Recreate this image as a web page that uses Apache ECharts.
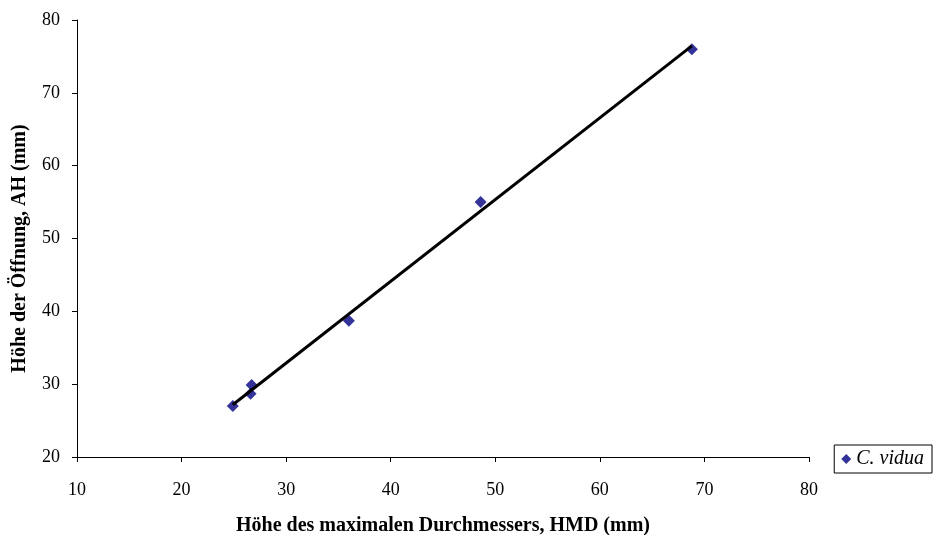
<!DOCTYPE html>
<html>
<head>
<meta charset="utf-8">
<script src="https://cdn.jsdelivr.net/npm/echarts@6/dist/echarts.min.js"></script>
<style>
  html, body { margin: 0; padding: 0; background: #fff; }
  #chart { width: 933px; height: 535px; }
</style>
</head>
<body>
<div id="chart"></div>
<script>
// Höhe des maximalen Durchmessers (HMD) und Höhe der Öffnung (AH), in mm
const hmd = [24.9, 26.6, 26.7, 36.0, 48.6, 68.8];
const ah  = [27.0, 28.7, 29.9, 38.7, 55.0, 76.0];
const seriesName = 'C. vidua';
const xTicks = [10, 20, 30, 40, 50, 60, 70, 80];
const yTicks = [20, 30, 40, 50, 60, 70, 80];

// Lineare Regression (Trendlinie) über die Messpunkte
function linearFit(xs, ys) {
  const n = xs.length;
  const mx = xs.reduce((a, b) => a + b, 0) / n;
  const my = ys.reduce((a, b) => a + b, 0) / n;
  let sxy = 0, sxx = 0;
  for (let i = 0; i < n; i++) {
    sxy += (xs[i] - mx) * (ys[i] - my);
    sxx += (xs[i] - mx) * (xs[i] - mx);
  }
  const slope = sxy / sxx;
  return { slope, intercept: my - slope * mx };
}
const fit = linearFit(hmd, ah);
const xMin = Math.min(...hmd), xMax = Math.max(...hmd);
const trend = [[xMin, fit.intercept + fit.slope * xMin], [xMax, fit.intercept + fit.slope * xMax]];

const font = '"Liberation Serif", "Times New Roman", serif';
const chart = echarts.init(document.getElementById('chart'), null, { renderer: 'canvas' });

chart.setOption({
  animation: false,
  backgroundColor: '#ffffff',
  grid: { left: 77, right: 124, top: 20, bottom: 78, containLabel: false, outerBoundsMode: 'none' },
  xAxis: {
    type: 'value',
    min: xTicks[0], max: xTicks[xTicks.length - 1], interval: 10,
    name: 'Höhe des maximalen Durchmessers, HMD (mm)',
    nameLocation: 'middle', nameGap: 59,
    nameTextStyle: { fontFamily: font, fontWeight: 'bold', fontSize: 20, color: '#000' },
    axisLine: { lineStyle: { color: '#000', width: 1 } },
    axisTick: { show: true, length: 5, lineStyle: { color: '#000' } },
    axisLabel: { fontFamily: font, fontSize: 18, color: '#000', margin: 24 },
    splitLine: { show: false }
  },
  yAxis: {
    type: 'value',
    min: yTicks[0], max: yTicks[yTicks.length - 1], interval: 10,
    name: 'Höhe der Öffnung, AH (mm)',
    nameLocation: 'middle', nameGap: 47, nameRotate: 90,
    nameTextStyle: { fontFamily: font, fontWeight: 'bold', fontSize: 20, color: '#000', padding: [0, 20, 0, 0] },
    axisLine: { show: true, lineStyle: { color: '#000', width: 1 } },
    axisTick: { show: true, length: 5, lineStyle: { color: '#000' } },
    axisLabel: { fontFamily: font, fontSize: 18, color: '#000', margin: 17 },
    splitLine: { show: false }
  },
  legend: {
    right: 1, top: 445,
    data: [{ name: seriesName, icon: 'diamond' }],
    itemWidth: 10, itemHeight: 10, itemGap: 5,
    padding: [4, 8, 4, 7],
    borderColor: '#000', borderWidth: 1,
    textStyle: { fontFamily: font, fontStyle: 'italic', fontSize: 20, color: '#000' }
  },
  series: [
    {
      name: 'Trend', type: 'line', data: trend,
      showSymbol: false, symbol: 'none',
      lineStyle: { color: '#000', width: 3 },
      z: 3, silent: true
    },
    {
      name: seriesName, type: 'scatter',
      data: hmd.map((x, i) => [x, ah[i]]),
      symbol: 'diamond', symbolSize: 12,
      itemStyle: { color: '#000080' },
      z: 2
    }
  ]
});
</script>
</body>
</html>
